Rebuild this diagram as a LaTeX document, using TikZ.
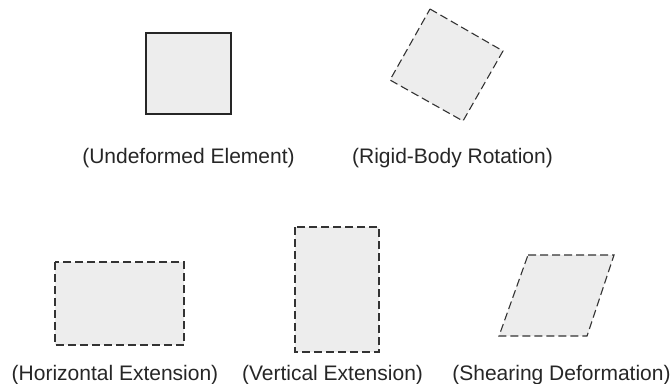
\documentclass[tikz,border=0pt]{standalone}
\usepackage{fontspec}
\setmainfont{Liberation Sans}
\begin{document}
\begin{tikzpicture}[x=1pt,y=-1pt,
  elem/.style={fill=black!7, draw=black!85, line width=1.3pt, line join=miter},
  deformed/.style={fill=black!7, draw=black!80, line width=1.1pt, dash pattern=on 8pt off 4pt},
  caption/.style={anchor=base, inner sep=0pt, font=\fontsize{21}{24}\selectfont, text=black!85}]
\useasboundingbox (0,0) rectangle (672,383);

% undeformed element
\draw[elem] (146,33) rectangle (231,114);
\node[caption] (capU) at (188.5,163) {(Undeformed Element)};

% rigid-body rotation
\draw[deformed] (430,9) -- (503,51) -- (463,121) -- (390,80) -- cycle;
\node[caption] (capR) at (452.5,163) {(Rigid-Body Rotation)};

% horizontal extension
\draw[deformed] (55,262) rectangle (184,345);
\node[caption] (capH) at (115,380) {(Horizontal Extension)};

% vertical extension
\draw[deformed] (295,227) rectangle (379,352);
\node[caption] (capV) at (332.5,380) {(Vertical Extension)};

% shearing deformation
\draw[deformed] (528,255) -- (614,255) -- (587,336) -- (499,336) -- cycle;
\node[caption] (capS) at (561.5,380) {(Shearing Deformation)};
\end{tikzpicture}
\end{document}
